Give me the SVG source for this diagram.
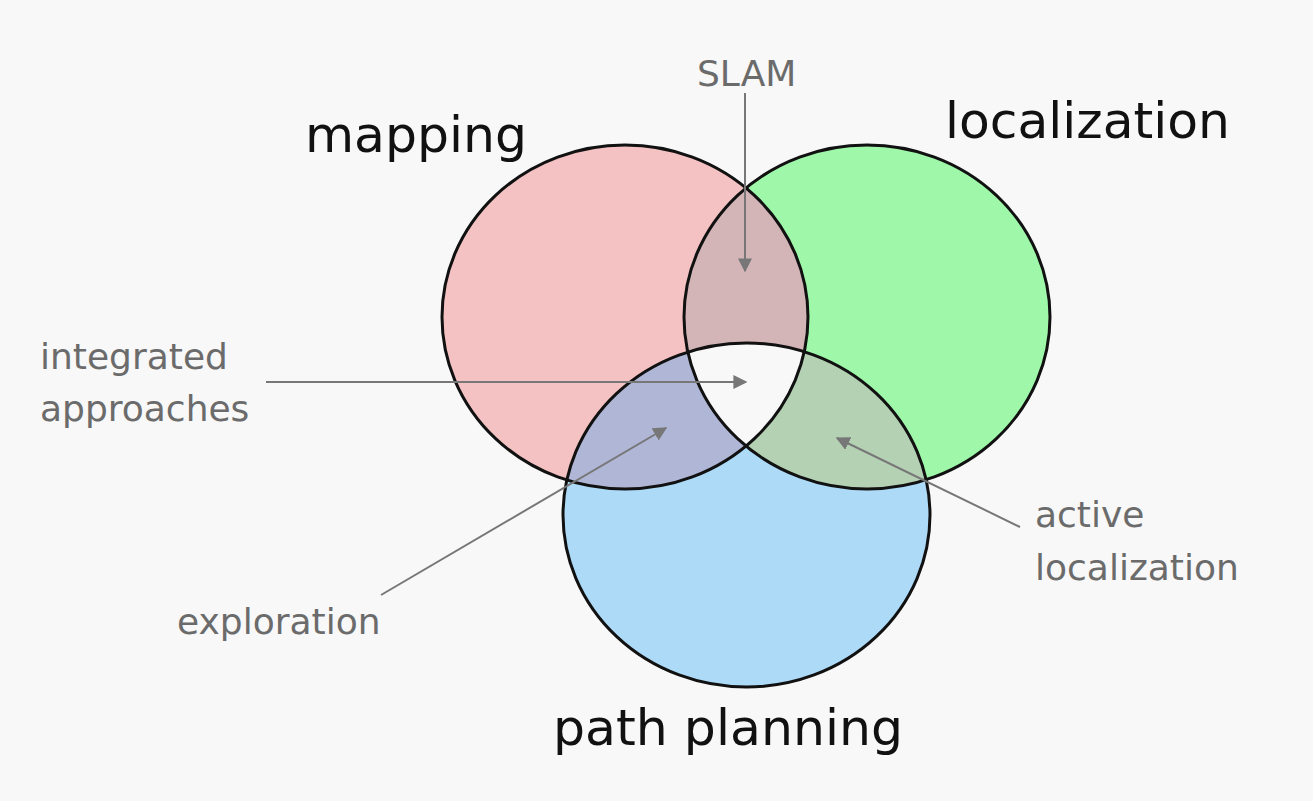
<svg xmlns="http://www.w3.org/2000/svg" width="1313" height="801" viewBox="0 0 1313 801">
<style>
.big{font-family:"DejaVu Sans",Verdana,sans-serif;font-size:50px;fill:#111}
.lbl{font-family:"DejaVu Sans",Verdana,sans-serif;font-size:36px;fill:#6b6b6b}
.ring{fill:none;stroke:#111;stroke-width:3}
.conn{stroke:#777;stroke-width:2;fill:none;marker-end:url(#ah)}
</style>
<defs>
<marker id="ah" viewBox="0 0 10 10" refX="9" refY="5" markerWidth="7" markerHeight="7" markerUnits="strokeWidth" orient="auto">
<path d="M0,0 L10,5 L0,10 z" fill="#777"/>
</marker>
<clipPath id="cM"><ellipse cx="625" cy="317" rx="183" ry="172"/></clipPath>
<clipPath id="cL"><ellipse cx="867" cy="317" rx="183" ry="172"/></clipPath>
<clipPath id="cP"><ellipse cx="746.5" cy="515" rx="183.5" ry="172"/></clipPath>
</defs>
<rect width="1313" height="801" fill="#f8f8f8"/>
<g id="mapping">
<ellipse cx="625" cy="317" rx="183" ry="172" fill="#f4c2c2"/>
</g>
<g id="localization">
<ellipse cx="867" cy="317" rx="183" ry="172" fill="#9ff7aa"/>
</g>
<g id="path-planning">
<ellipse cx="746.5" cy="515" rx="183.5" ry="172" fill="#acdaf7"/>
</g>
<g id="overlaps">
<g clip-path="url(#cM)"><ellipse cx="867" cy="317" rx="183" ry="172" fill="#d3b5b8"/></g>
<g clip-path="url(#cM)"><ellipse cx="746.5" cy="515" rx="183.5" ry="172" fill="#b0b6d6"/></g>
<g clip-path="url(#cL)"><ellipse cx="746.5" cy="515" rx="183.5" ry="172" fill="#b4d1b4"/></g>
<g clip-path="url(#cM)"><g clip-path="url(#cL)"><ellipse cx="746.5" cy="515" rx="183.5" ry="172" fill="#f8f8f8"/></g></g>
</g>
<g id="rings">
<ellipse class="ring" cx="625" cy="317" rx="183" ry="172"/>
<ellipse class="ring" cx="867" cy="317" rx="183" ry="172"/>
<ellipse class="ring" cx="746.5" cy="515" rx="183.5" ry="172"/>
</g>
<g id="connectors">
<line class="conn" x1="745" y1="93" x2="745" y2="271"/>
<line class="conn" x1="266" y1="382" x2="746" y2="382"/>
<line class="conn" x1="381" y1="595" x2="666" y2="428"/>
<line class="conn" x1="1020" y1="527" x2="837" y2="438"/>
</g>
<g id="labels">
<text class="big" x="305" y="152" textLength="222" lengthAdjust="spacingAndGlyphs">mapping</text>
<text class="big" x="945" y="138" textLength="285" lengthAdjust="spacingAndGlyphs">localization</text>
<text class="big" x="553" y="745" textLength="350" lengthAdjust="spacingAndGlyphs">path planning</text>
<text class="lbl" x="697" y="86">SLAM</text>
<text class="lbl" x="40" y="369">integrated</text>
<text class="lbl" x="40" y="421">approaches</text>
<text class="lbl" x="177" y="634">exploration</text>
<text class="lbl" x="1035" y="527">active</text>
<text class="lbl" x="1035" y="580">localization</text>
</g>
</svg>
